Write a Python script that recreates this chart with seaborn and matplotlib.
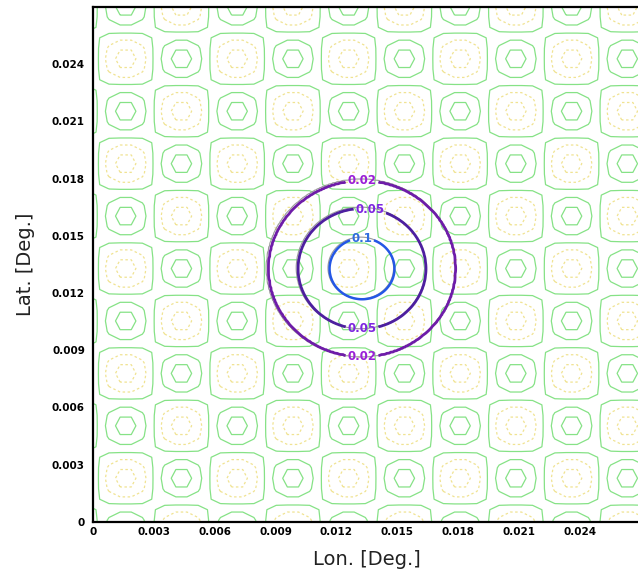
import numpy as np
import matplotlib
matplotlib.use('Agg')
import matplotlib.pyplot as plt
import seaborn as sns

sns.set_style('white')
plt.rcParams['font.family'] = ['DejaVu Sans']

# axes
lon_lim = [0, 0.027]
lat_lim = [0, 0.027]
tick_vals = [0, 0.003, 0.006, 0.009, 0.012, 0.015, 0.018, 0.021, 0.024]
tick_labels = ['0', '0.003', '0.006', '0.009', '0.012', '0.015', '0.018', '0.021', '0.024']

# background cell pattern (highs = green hexagons, lows = yellow dotted)
cell = 0.00275
high_lon = 0.00435
high_lat = 0.00228
grid_step = 0.00055
bg_levels = [-0.8, -0.4, -0.03, 0.4, 0.8]
bg_colors = ['#f0e392', '#f0e392', '#86e286', '#86e286', '#86e286']
bg_styles = [(0, (2, 2)), (0, (2, 2)), 'solid', 'solid', 'solid']

# central feature, radial profile
center_lon = 0.01326
center_lat = 0.01327
profile_r = [0.0, 0.0016, 0.00315, 0.0046, 0.0095]
profile_v = [0.16, 0.1, 0.05, 0.02, 0.004]
ring_levels = [0.02, 0.05, 0.1]
ring_radius = [0.0046, 0.00315, 0.0016]
label_shift = [0.0, 0.0004, 0.0]
ring_colors = ['#6e1ca8', '#4d1f9f', '#2457e6']
label_colors = ['#9a1fd8', '#7d26e0', '#2f6de0']

# background field on a coarse grid
gx = np.arange(high_lon + grid_step / 2 - 12 * grid_step, 0.030, grid_step)
gy = np.arange(high_lat - 8 * grid_step, 0.030, grid_step)
GX, GY = np.meshgrid(gx, gy)
bg = np.cos(np.pi * (GX - high_lon) / cell) * np.cos(np.pi * (GY - high_lat) / cell)

# central field on a finer grid
fx = np.linspace(0.004, 0.023, 300)
fy = np.linspace(0.004, 0.023, 300)
FX, FY = np.meshgrid(fx, fy)
rr = np.hypot(FX - center_lon, FY - center_lat)
ring_field = np.interp(rr, profile_r, profile_v)
rr2 = np.hypot(FX - center_lon + 0.00006, FY - center_lat - 0.00004) * 0.99
grey_field = np.interp(rr2, profile_r, profile_v)

fig = plt.figure(figsize=(6.38, 5.73), dpi=100)
ax = fig.add_axes([0.1462, 0.0895, 0.8577, 0.8984])

ax.contour(GX, GY, bg, levels=bg_levels, colors=bg_colors,
           linestyles=bg_styles, linewidths=0.9)

ax.contour(FX, FY, grey_field, levels=ring_levels, colors='#9a9a9a', linewidths=0.8)

for lev, rad, sh, col, lcol in zip(ring_levels, ring_radius, label_shift,
                                   ring_colors, label_colors):
    cs = ax.contour(FX, FY, ring_field, levels=[lev], colors=[col],
                    linewidths=2.0 if lev < 0.1 else 1.8)
    if lev < 0.1:
        spots = [(center_lon + sh, center_lat + rad), (center_lon, center_lat - rad)]
    else:
        spots = [(center_lon, center_lat + rad)]
    ax.clabel(cs, fmt={lev: str(lev)}, manual=spots, fontsize=8.5,
              colors=lcol, inline=True, inline_spacing=1)
    for t in cs.labelTexts:
        t.set_fontweight('bold')
        t.set_rotation(0)

ax.set_xlim(lon_lim)
ax.set_ylim(lat_lim)
ax.set_xticks(tick_vals)
ax.set_xticklabels(tick_labels)
ax.set_yticks(tick_vals)
ax.set_yticklabels(tick_labels)
ax.tick_params(axis='x', direction='in', length=4, width=1.5, pad=4,
               labelsize=7.5, colors='black')
ax.tick_params(axis='y', direction='out', length=4, width=1.5, pad=2,
               labelsize=7.5, colors='black')
for lab in ax.get_xticklabels() + ax.get_yticklabels():
    lab.set_fontweight('bold')
for sp in ax.spines.values():
    sp.set_linewidth(1.6)
    sp.set_color('black')

ax.set_xlabel('Lon. [Deg.]', fontsize=14, labelpad=9, color='#222222')
ax.set_ylabel('Lat. [Deg.]', fontsize=14, labelpad=12, color='#222222')

fig.savefig('out.png', dpi=100)
